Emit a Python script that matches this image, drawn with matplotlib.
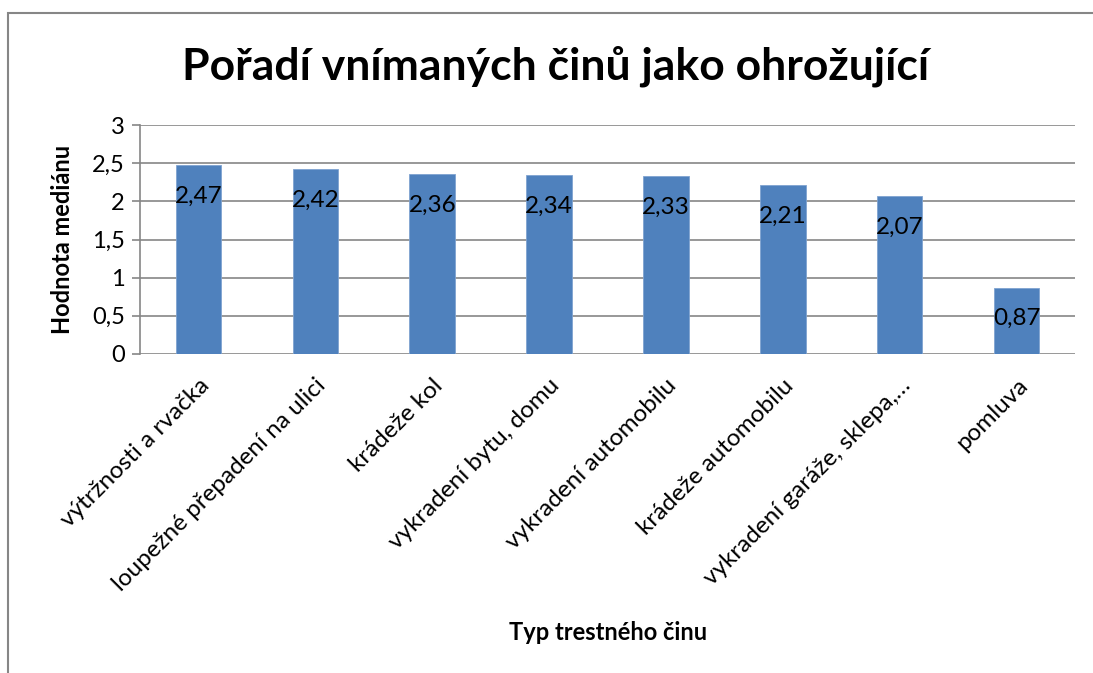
import matplotlib.pyplot as plt
from matplotlib.patches import Rectangle

plt.rcParams['font.family'] = ['Lato', 'DejaVu Sans']

# data
categories = ['výtržnosti a rvačka', 'loupežné přepadení na ulici', 'krádeže kol',
              'vykradení bytu, domu', 'vykradení automobilu', 'krádeže automobilu',
              'vykradení garáže, sklepa,…', 'pomluva']
values = [2.47, 2.42, 2.36, 2.34, 2.33, 2.21, 2.07, 0.87]
yticks = [0, 0.5, 1, 1.5, 2, 2.5, 3]

def cz(v):
    return ('%g' % v).replace('.', ',')

W, H = 1093, 673
fig = plt.figure(figsize=(W / 100, H / 100), dpi=100)

# chart border (cut off at right and bottom like the reference)
fig.patches.append(Rectangle((8 / W, -0.1), 1.2, 1 - 13 / H + 0.1, transform=fig.transFigure,
                             fill=False, edgecolor='#868686', linewidth=1.5))

ax = fig.add_axes([140 / W, 1 - 354 / H, (1075 - 140) / W, (354 - 125) / H])
x = range(len(categories))
ax.bar(x, values, width=0.39, color='#4F81BD', edgecolor='#7FA3D0', linewidth=0.6, zorder=3)

for i, v in enumerate(values):
    ax.annotate(cz(v), (i, v), xytext=(0, -31), textcoords='offset pixels',
                ha='center', va='center', fontsize=17.5, zorder=4)

ax.set_xlim(-0.5, len(categories) - 0.5)
ax.set_ylim(0, 3)
ax.set_yticks(yticks)
ax.set_yticklabels([cz(t) for t in yticks], fontsize=17)
ax.yaxis.grid(True, color='#868686', linewidth=1.2, zorder=0)
ax.tick_params(axis='y', length=6, color='#868686', width=1.2, pad=5)
ax.tick_params(axis='x', length=0, pad=15)
ax.set_xticks(list(x))
ax.set_xticklabels(categories, rotation=45, ha='right', rotation_mode='anchor', fontsize=17.5)

for s in ['top', 'right', 'bottom']:
    ax.spines[s].set_visible(False)
ax.spines['left'].set_color('#868686')
ax.spines['left'].set_linewidth(1.2)

fig.text(62 / W, 1 - 239 / H, 'Hodnota mediánu', rotation=90, ha='center', va='center',
         fontsize=17, fontweight='bold')
fig.text(608 / W, 1 - 632 / H, 'Typ trestného činu', ha='center', va='center',
         fontsize=17, fontweight='bold')
fig.text(556 / W, 1 - 66 / H, 'Pořadí vnímaných činů jako ohrožující', ha='center', va='center',
         fontsize=32, fontweight='bold')

fig.savefig('out.png', dpi=100)
